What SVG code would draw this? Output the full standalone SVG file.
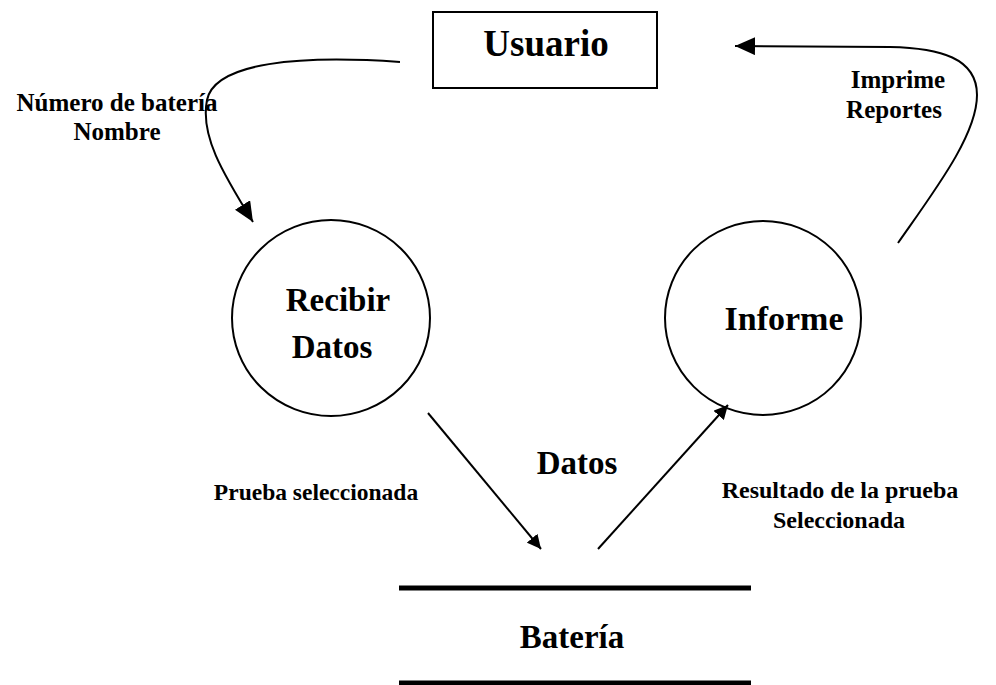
<svg xmlns="http://www.w3.org/2000/svg" width="996" height="685" viewBox="0 0 996 685">
<style>
text{font-family:"Liberation Serif","Times New Roman",serif;font-weight:bold;fill:#000;text-anchor:middle}
.big{font-size:33px}
.lbl{font-size:25px}
.lbl2{font-size:24px}
.shape{fill:none;stroke:#000;stroke-width:2}
.flow{fill:none;stroke:#000;stroke-width:2}
</style>
<defs>
<marker id="ah" markerUnits="userSpaceOnUse" markerWidth="22" markerHeight="18" refX="20" refY="9" orient="auto">
<path d="M0,0 L20,9 L0,18 Z" fill="#000"/>
</marker>
<marker id="ahs" markerUnits="userSpaceOnUse" markerWidth="16" markerHeight="14" refX="14" refY="7" orient="auto">
<path d="M0,0 L14,7 L0,14 Z" fill="#000"/>
</marker>
</defs>
<rect width="996" height="685" fill="#fff"/>
<g id="usuario">
<rect class="shape" x="433" y="12" width="224" height="76"/>
<text x="546" y="56" style="font-size:37px">Usuario</text>
</g>
<g id="recibir">
<ellipse class="shape" cx="331" cy="318" rx="99" ry="98"/>
<text class="big" x="338" y="311">Recibir</text>
<text class="big" x="332" y="358">Datos</text>
</g>
<g id="informe">
<ellipse class="shape" cx="763" cy="318" rx="98" ry="97"/>
<text x="784" y="330" style="font-size:34px">Informe</text>
</g>
<g id="bateria">
<line x1="399" y1="588" x2="751" y2="588" stroke="#000" stroke-width="5"/>
<line x1="399" y1="683" x2="751" y2="683" stroke="#000" stroke-width="5"/>
<text class="big" x="572" y="648">Batería</text>
</g>
<g id="connectors">
<path class="flow" d="M400,62 C300,55 215,62 207,100 C200,135 222,172 253,222" marker-end="url(#ah)"/>
<path class="flow" d="M898,243 C935,190 977,135 977,95 C977,58 940,48 890,47 L735,46" marker-end="url(#ah)"/>
<path class="flow" d="M428,413 L541,549" marker-end="url(#ahs)"/>
<path class="flow" d="M598,549 L728,405" marker-end="url(#ahs)"/>
</g>
<g id="labels">
<text class="lbl" x="117" y="111">Número de batería</text>
<text class="lbl" x="117" y="140">Nombre</text>
<text class="lbl" x="898" y="88">Imprime</text>
<text class="lbl" x="894" y="118">Reportes</text>
<text class="lbl2" x="316" y="500" style="font-size:23.5px">Prueba seleccionada</text>
<text class="lbl2" x="840" y="498">Resultado de la prueba</text>
<text class="lbl2" x="839" y="528">Seleccionada</text>
<text class="big" x="577" y="474">Datos</text>
</g>
</svg>
